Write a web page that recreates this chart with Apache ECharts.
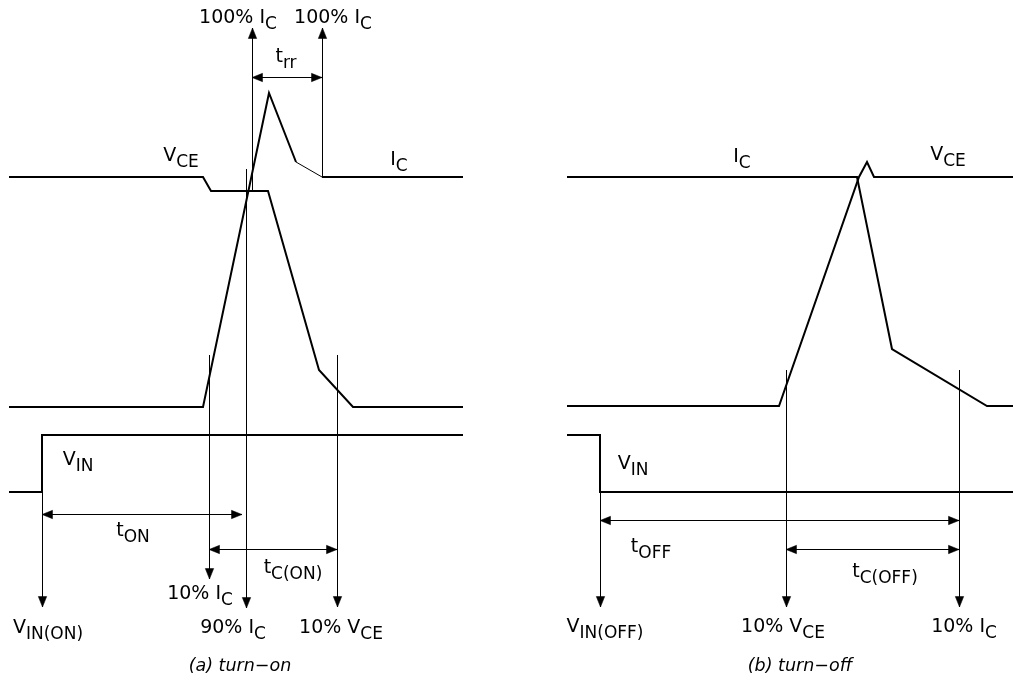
<!DOCTYPE html>
<html><head><meta charset="utf-8">
<script src="https://cdn.jsdelivr.net/npm/echarts@6/dist/echarts.min.js"></script>
<style>html,body{margin:0;padding:0;background:#fff}#c{width:1013px;height:681px}</style>
</head><body><div id="c"></div>
<script>
// ---- waveform points (diagram units) ----
const onVCE    = [[9,177],[203,177],[211,191],[268,191],[319,370],[353,407],[463,407]];
const onIC     = [[9,407],[203,407],[269,93],[296,162]];
const onICTail = [[296,162],[322,177]];
const onICFlat = [[322,177],[463,177]];
const onVIN    = [[9,492],[42,492],[42,435],[463,435]];
const offIC    = [[567,177],[857,177],[892,349],[987,406],[1013,406]];
const offVCE   = [[567,406],[779,406],[859,177],[867,162],[874,177],[1013,177]];
const offVIN   = [[567,435],[600,435],[600,492],[1013,492]];

// ---- measurement markers: [x1,y1,x2,y2,arrowAtStart,arrowAtEnd] ----
const markers = [
  [42,492,42,607,0,1],
  [209,355,209,579,0,1],
  [246,169,246,608,0,1],
  [337,355,337,607,0,1],
  [252,191,252,28,0,1],
  [322,177,322,28,0,1],
  [252,77,322,77,1,1],
  [42,514,242,514,1,1],
  [209,549,337,549,1,1],
  [600,492,600,607,0,1],
  [786,370,786,607,0,1],
  [959,370,959,607,0,1],
  [600,520,959,520,1,1],
  [786,549,959,549,1,1]
];

// ---- text labels: [x, y, main, subscript] ----
const labels = [
  [238,18,'100% I','C'],
  [333,18,'100% I','C'],
  [286,57,'t','rr'],
  [181,156,'V','CE'],
  [399,160,'I','C'],
  [78,460,'V','IN'],
  [133,531,'t','ON'],
  [293,568,'t','C(ON)'],
  [200,594,'10% I','C'],
  [48,628,'V','IN(ON)'],
  [233,628,'90% I','C'],
  [341,628,'10% V','CE'],
  [742,157,'I','C'],
  [948,155,'V','CE'],
  [633,464,'V','IN'],
  [651,547,'t','OFF'],
  [885,572,'t','C(OFF)'],
  [605,627,'V','IN(OFF)'],
  [783,627,'10% V','CE'],
  [964,627,'10% I','C']
];
const captions = [
  [240,666,'(a) turn\u2212on'],
  [800,666,'(b) turn\u2212off']
];

const FONT = 'DejaVu Sans';

function wave(data, width) {
  return {type:'line', data:data, symbol:'none', animation:false, silent:true,
    lineStyle:{color:'#000', width:width, join:'miter'}, z:3};
}

function renderMarker(params, api) {
  const crisp = v => Math.round(v) + 0.5;
  let a = api.coord([api.value(0), api.value(1)]);
  let b = api.coord([api.value(2), api.value(3)]);
  if (Math.abs(a[0]-b[0]) < 0.01) { a = [crisp(a[0]), a[1]]; b = [crisp(b[0]), b[1]]; }
  if (Math.abs(a[1]-b[1]) < 0.01) { a = [a[0], crisp(a[1])]; b = [b[0], crisp(b[1])]; }
  const children = [{type:'line', shape:{x1:a[0], y1:a[1], x2:b[0], y2:b[1]},
    style:{stroke:'#000', lineWidth:1}}];
  const head = (tip, from) => {
    const dx = tip[0]-from[0], dy = tip[1]-from[1];
    const len = Math.hypot(dx, dy), ux = dx/len, uy = dy/len;
    const L = 10.5, W = 4.2;
    const bx = tip[0]-ux*L, by = tip[1]-uy*L;
    return {type:'polygon', shape:{points:[[tip[0],tip[1]],[bx-uy*W, by+ux*W],[bx+uy*W, by-ux*W]]},
      style:{fill:'#000', stroke:'#000', lineWidth:0.5}};
  };
  if (api.value(4)) children.push(head(a, b));
  if (api.value(5)) children.push(head(b, a));
  return {type:'group', children:children};
}

const richStyles = {
  m:{fontSize:19, fontFamily:FONT, color:'#000', verticalAlign:'top'},
  s:{fontSize:17, fontFamily:FONT, color:'#000', verticalAlign:'top', padding:[8,0,0,0]},
  c:{fontSize:17.5, fontFamily:FONT, fontStyle:'italic', color:'#000', verticalAlign:'top'}
};

const labelData = labels.map(l => ({value:[l[0], l[1]-9.5], name:'{m|'+l[2]+'}{s|'+l[3]+'}'}))
  .concat(captions.map(c => ({value:[c[0], c[1]-8.75], name:'{c|'+c[2]+'}'})));

const chart = echarts.init(document.getElementById('c'), null, {renderer:'canvas'});
chart.setOption({
  animation:false,
  backgroundColor:'#fff',
  grid:{left:0, right:0, top:0, bottom:0, containLabel:false},
  xAxis:{type:'value', min:0, max:1013, show:false, splitLine:{show:false}},
  yAxis:{type:'value', min:0, max:681, inverse:true, show:false, splitLine:{show:false}},
  series:[
    wave(onVCE,2), wave(onIC,2), wave(onICTail,1), wave(onICFlat,2), wave(onVIN,2),
    wave(offIC,2), wave(offVCE,2), wave(offVIN,2),
    {type:'custom', data:markers, renderItem:renderMarker, encode:{x:[0,2], y:[1,3]},
      silent:true, animation:false, z:2, clip:false},
    {type:'scatter', data:labelData, symbolSize:1, itemStyle:{color:'rgba(0,0,0,0)'},
      silent:true, animation:false, z:5,
      label:{show:true, position:'inside', align:'center', verticalAlign:'top',
        color:'#000', opacity:1, textBorderWidth:0,
        formatter:p => p.name, rich:richStyles}}
  ]
});
</script>
</body></html>
